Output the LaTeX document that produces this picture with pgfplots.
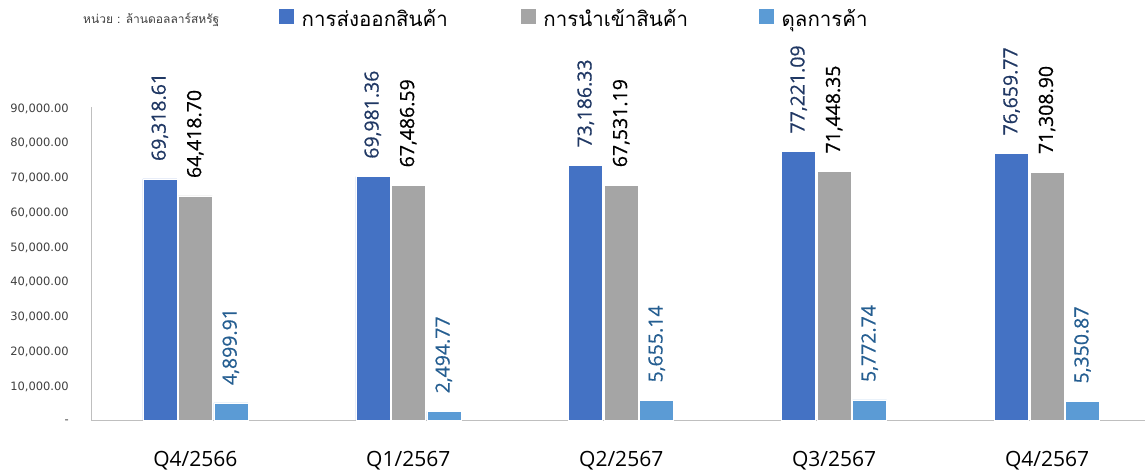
\documentclass[border=0pt]{standalone}
\usepackage{pgfplots}
\pgfplotsset{compat=1.18}
\usepackage{pgfplotstable}
\usepackage{fontspec}
\setmainfont{Open Sans}
\newfontfamily\labfont[FakeBold=0.6]{Open Sans}
\newfontfamily\thaifont[Script=Thai]{Loma}
\newfontfamily\tickfont{DejaVu Sans}

\definecolor{expc}{HTML}{4472C4}
\definecolor{impc}{HTML}{A5A5A5}
\definecolor{balc}{HTML}{5B9BD5}
\definecolor{explab}{HTML}{203864}
\definecolor{ballab}{HTML}{255E91}
\definecolor{axgray}{HTML}{BFBFBF}

\pgfplotstableread{
x exp imp bal expl impl ball
0 69318.61 64418.70 4899.91 69,318.61 64,418.70 4,899.91
1 69981.36 67486.59 2494.77 69,981.36 67,486.59 2,494.77
2 73186.33 67531.19 5655.14 73,186.33 67,531.19 5,655.14
3 77221.09 71448.35 5772.74 77,221.09 71,448.35 5,772.74
4 76659.77 71308.90 5350.87 76,659.77 71,308.90 5,350.87
}\trade

\begin{document}
\begin{tikzpicture}
\useasboundingbox (0,0) rectangle (1145pt,472pt);
\begin{axis}[
    at={(91pt,52pt)}, anchor=south west,
    scale only axis,
    width=1054pt, height=313pt,
    ybar=1.5pt,
    bar width=34pt,
    xmin=-0.49, xmax=4.46,
    ymin=0, ymax=90000,
    scaled y ticks=false,
    axis x line=bottom, axis y line=left,
    axis line style={axgray, line width=0.8pt, -},
    major tick length=0pt,
    xtick=data,
    xticklabels={Q4/2566, Q1/2567, Q2/2567, Q3/2567, Q4/2567},
    xticklabel style={font=\fontsize{21}{21}\selectfont, anchor=north, inner sep=0pt, yshift=-31pt},
    ytick={0,10000,...,90000},
    yticklabels={{-\hspace{9pt}},{10,000.00},{20,000.00},{30,000.00},{40,000.00},{50,000.00},{60,000.00},{70,000.00},{80,000.00},{90,000.00}},
    yticklabel style={font=\tickfont\fontsize{11.5}{11.5}\selectfont, text=black!75, anchor=east, inner sep=0pt, xshift=-22pt, yshift=-1.5pt},
    clip=false,
    point meta=explicit symbolic,
    nodes near coords,
    every node near coord/.append style={rotate=90, anchor=west, inner sep=0pt, outer xsep=18pt, font=\labfont\fontsize{19.5}{19.5}\selectfont},
    legend style={at={(0.1774,1.32)}, anchor=north west, draw=none, fill=none, inner sep=0pt,
        font=\thaifont\fontsize{20.5}{20.5}\selectfont,
        /tikz/column 2/.style={column sep=70pt},
        /tikz/column 4/.style={column sep=68pt}},
    legend columns=3,
    legend image code/.code={\fill[#1] (0pt,-6pt) rectangle (16pt,10pt); \path (21pt,0pt);},
]
\addplot[fill=expc, draw=white, line width=0.5pt, every node near coord/.append style={text=explab}]
    table[x=x, y=exp, meta=expl] {\trade};
\addplot[fill=impc, draw=white, line width=0.5pt, every node near coord/.append style={text=black}]
    table[x=x, y=imp, meta=impl] {\trade};
\addplot[fill=balc, draw=white, line width=0.5pt, every node near coord/.append style={text=ballab}]
    table[x=x, y=bal, meta=ball] {\trade};
\legend{การส่งออกสินค้า, การนำเข้าสินค้า, ดุลการค้า}
\end{axis}
\node[anchor=west, inner sep=0pt, font=\thaifont\fontsize{12}{12}\selectfont, text=black!75] at (83pt,452pt) {หน่วย : ล้านดอลลาร์สหรัฐ};
\end{tikzpicture}
\end{document}
